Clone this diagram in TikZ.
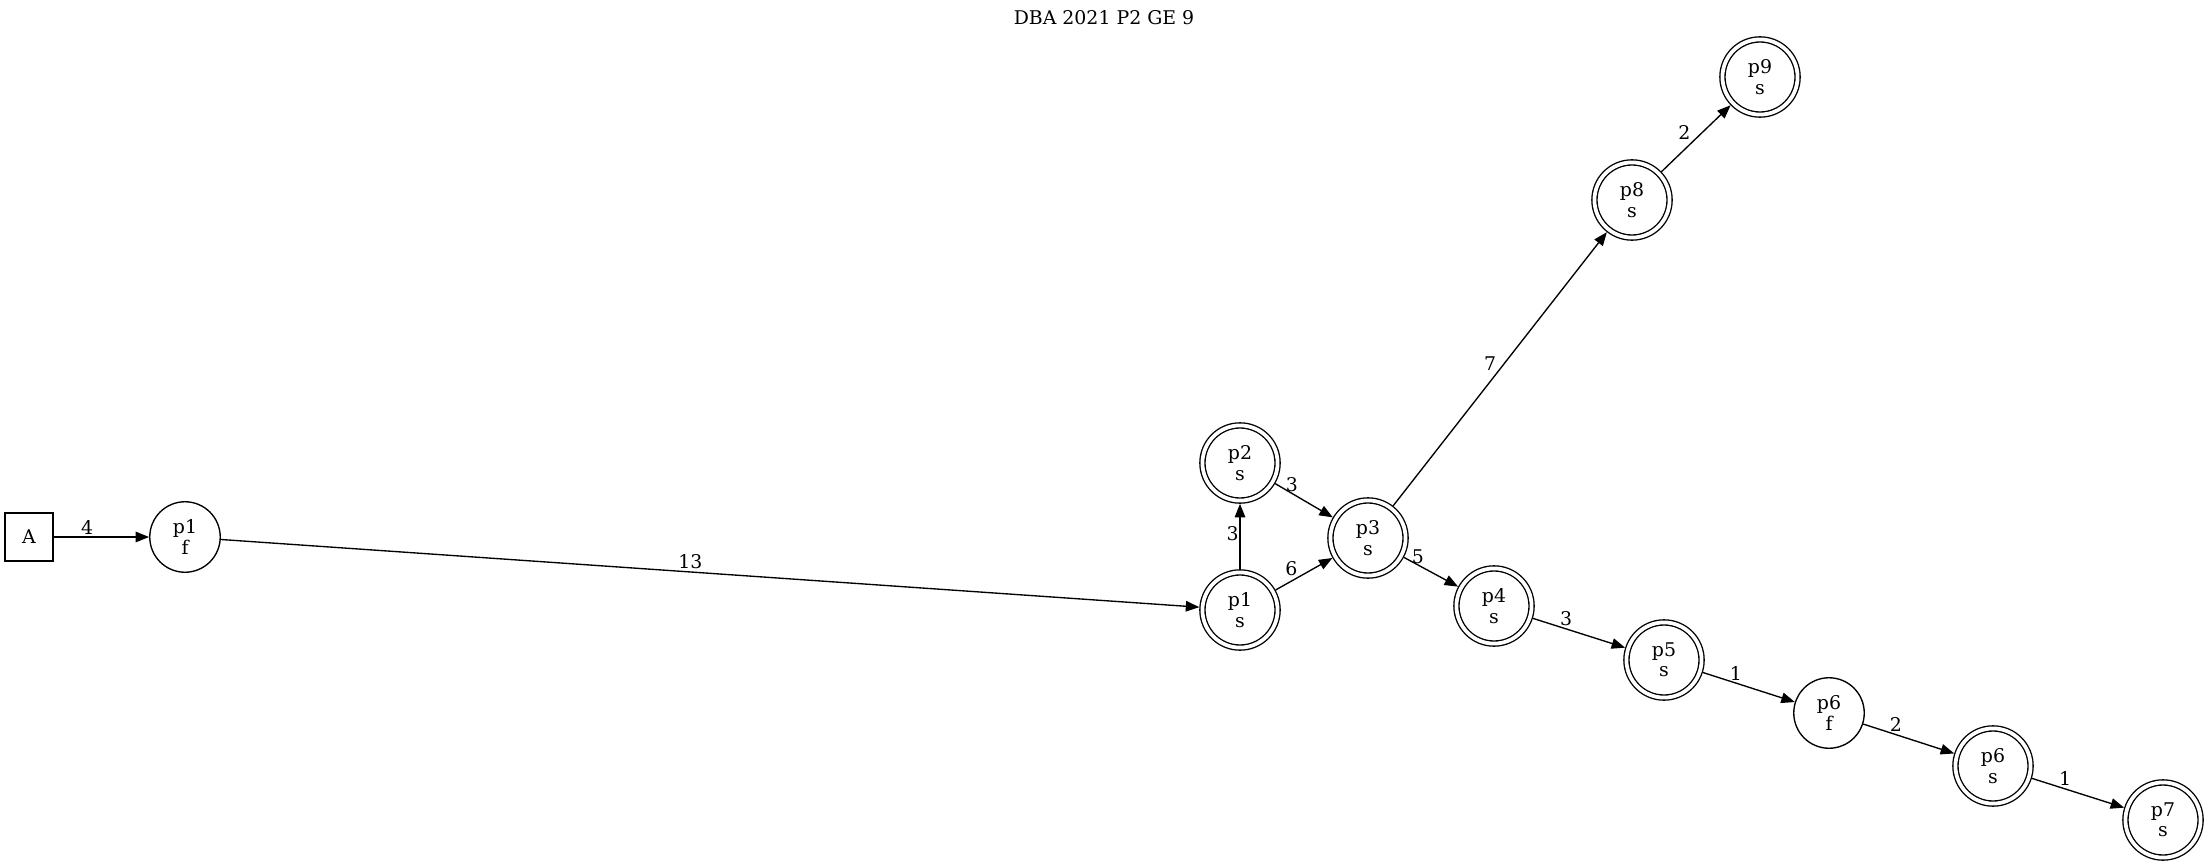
\documentclass[tikz,border=0pt]{standalone}
\usepackage{fontspec}
\setmainfont{DejaVu Serif}
\usetikzlibrary{arrows.meta, positioning}
\tikzset{
    >={Triangle[length=9pt, width=7pt]},
    every node/.style={font=\fontsize{12.6}{13.5}\selectfont},
    state/.style={circle, draw, line width=0.9pt, minimum size=47pt, inner sep=0pt, align=center},
    final/.style={state, double, double distance=2.5pt, minimum size=50.1pt, outer sep=2.15pt},
    start/.style={rectangle, draw, line width=0.9pt, minimum size=32pt, inner sep=0pt},
    edge/.style={->, line width=0.9pt},
    weight/.style={inner sep=1.5pt},
}
\begin{document}
\begin{tikzpicture}[x=0.6667pt, y=-0.6667pt]
    \useasboundingbox (0,0) rectangle (2210,867);
    \node (title) at (1104,18) {DBA 2021 P2 GE 9};
    \node[start] (A) at (29,537) {A};
    \node[state] (p1f) at (185,537) {p1\\f};
    \node[final] (p1s) at (1240,610) {p1\\s};
    \node[final] (p2s) at (1240,463) {p2\\s};
    \node[final] (p3s) at (1368,538) {p3\\s};
    \node[final] (p4s) at (1494,606) {p4\\s};
    \node[final] (p5s) at (1664,660) {p5\\s};
    \node[state] (p6f) at (1829,713) {p6\\f};
    \node[final] (p6s) at (1993,766) {p6\\s};
    \node[final] (p7s) at (2163,820) {p7\\s};
    \node[final] (p8s) at (1632,200) {p8\\s};
    \node[final] (p9s) at (1760,77) {p9\\s};
    % edges with weights
    \draw[edge] (A) -- (p1f) node[weight, pos=0.35, above] {4};
    \draw[edge] (p1f) -- (p1s) node[weight, pos=0.48, above] {13};
    \draw[edge] (p1s) -- (p2s) node[weight, pos=0.55, left, inner sep=0.5pt] {3};
    \draw[edge] (p2s) -- (p3s) node[weight, pos=0.29, above, inner sep=0.5pt] {3};
    \draw[edge] (p1s) -- (p3s) node[weight, pos=0.28, above, inner sep=3pt] {6};
    \draw[edge] (p3s) -- (p4s) node[weight, pos=0.26, above, inner sep=0.5pt] {5};
    \draw[edge] (p3s) -- (p8s) node[weight, pos=0.52, left, inner sep=5pt] {7};
    \draw[edge] (p8s) -- (p9s) node[weight, pos=0.45, above left, inner sep=1pt] {2};
    \foreach \a/\b/\w in {p4s/p5s/3, p5s/p6f/1, p6f/p6s/2, p6s/p7s/1}
        \draw[edge] (\a) -- (\b) node[weight, pos=0.36, above] {\w};
\end{tikzpicture}
\end{document}
